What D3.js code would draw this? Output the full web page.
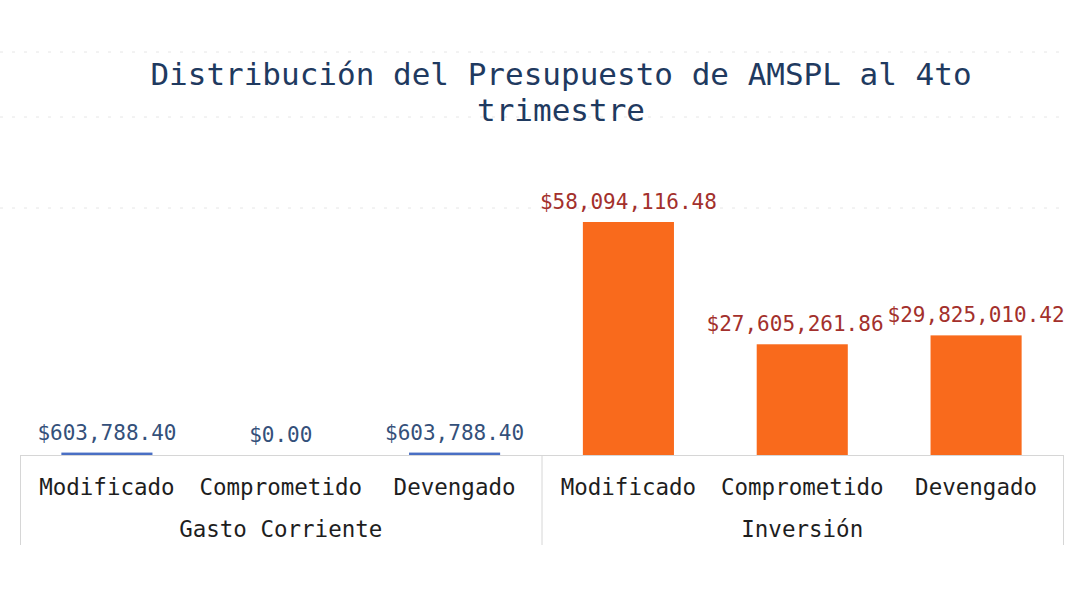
<!DOCTYPE html>
<html>
<head>
<meta charset="utf-8">
<script src="https://cdn.jsdelivr.net/npm/d3@7"></script>
<style>
  html, body { margin: 0; padding: 0; background: #ffffff; }
  svg { display: block; }
  text { font-family: "DejaVu Sans Mono", "Liberation Mono", monospace; }
</style>
</head>
<body>
<svg id="chart" width="1068" height="589"></svg>
<script>
// ---- data ----
const titleLines = ["Distribución del Presupuesto de AMSPL al 4to", "trimestre"];
const groups = ["Gasto Corriente", "Inversión"];
const stages = ["Modificado", "Comprometido", "Devengado"];
const gastoCorriente = [603788.40, 0.00, 603788.40];
const inversion = [58094116.48, 27605261.86, 29825010.42];

const groupColors = { "Gasto Corriente": "#4a6fc4", "Inversión": "#f96a1c" };
const labelColors = { "Gasto Corriente": "#34507a", "Inversión": "#a3302c" };

const rows = [];
groups.forEach((g, gi) => {
  const vals = gi === 0 ? gastoCorriente : inversion;
  stages.forEach((s, si) => rows.push({ key: g + "|" + s, group: g, stage: s, value: vals[si] }));
});

// ---- layout ----
const svg = d3.select("#chart");
const left = 20, right = 1063, baseY = 455, boxBottom = 545;

const x = d3.scaleBand()
  .domain(rows.map(d => d.key))
  .range([left, right])
  .paddingInner(0.476)
  .paddingOuter(0.238);

const xOuter = d3.scaleBand().domain(rows.map(d => d.key)).range([left, right]).padding(0);

const y = d3.scaleLinear()
  .domain([0, d3.max(inversion)])
  .range([baseY, 222]);

const fmt = v => "$" + d3.format(",.2f")(v);

// faint background dotted rules (scan-like)
[52, 117, 208].forEach(yy => {
  svg.append("line")
    .attr("x1", 0).attr("x2", 1068).attr("y1", yy).attr("y2", yy)
    .attr("stroke", "#e6e6e6").attr("stroke-width", 1)
    .attr("stroke-dasharray", "3,9");
});

// title
svg.append("text")
  .attr("x", 561).attr("y", 85)
  .attr("text-anchor", "middle")
  .attr("fill", "#1f3a60")
  .attr("font-size", 31)
  .selectAll("tspan")
  .data(titleLines)
  .join("tspan")
  .attr("x", 561)
  .attr("dy", (d, i) => i === 0 ? 0 : 36)
  .text(d => d);

// bars
svg.append("g").selectAll("rect")
  .data(rows)
  .join("rect")
  .attr("x", d => x(d.key))
  .attr("width", x.bandwidth())
  .attr("y", d => y(d.value))
  .attr("height", d => baseY - y(d.value))
  .attr("fill", d => groupColors[d.group]);

// value labels
const vlabels = svg.append("g").selectAll("text")
  .data(rows)
  .join("text")
  .attr("x", d => x(d.key) + x.bandwidth() / 2)
  .attr("y", d => y(d.value) - 13)
  .attr("text-anchor", "middle")
  .attr("font-size", 21)
  .attr("fill", d => labelColors[d.group])
  .text(d => fmt(d.value));

// simple collision avoidance: shift a label left if it runs into the next one
const nodes = vlabels.nodes();
for (let i = nodes.length - 2; i >= 0; i--) {
  const a = nodes[i].getBBox(), b = nodes[i + 1].getBBox();
  const vOverlap = !(a.y + a.height < b.y || b.y + b.height < a.y);
  const gap = 4;
  if (vOverlap && a.x + a.width + gap > b.x) {
    const shift = a.x + a.width + gap - b.x;
    const cur = +nodes[i].getAttribute("x");
    nodes[i].setAttribute("x", cur - shift);
  }
}

// category box
const box = svg.append("g").attr("stroke", "#d6d6d6").attr("stroke-width", 1).attr("fill", "none");
box.append("line").attr("x1", left).attr("x2", right).attr("y1", baseY + 0.5).attr("y2", baseY + 0.5);
const groupEdges = [left, xOuter(rows[3].key), right];
groupEdges.forEach(xx => {
  box.append("line").attr("x1", xx + 0.5).attr("x2", xx + 0.5).attr("y1", baseY).attr("y2", boxBottom);
});

// stage labels
svg.append("g").selectAll("text")
  .data(rows)
  .join("text")
  .attr("x", d => x(d.key) + x.bandwidth() / 2)
  .attr("y", 495)
  .attr("text-anchor", "middle")
  .attr("font-size", 22.5)
  .attr("fill", "#1e1e1e")
  .text(d => d.stage);

// group labels
svg.append("g").selectAll("text")
  .data(groups)
  .join("text")
  .attr("x", (g, gi) => (groupEdges[gi] + groupEdges[gi + 1]) / 2)
  .attr("y", 537)
  .attr("text-anchor", "middle")
  .attr("font-size", 22.5)
  .attr("fill", "#1e1e1e")
  .text(d => d);
</script>
</body>
</html>
